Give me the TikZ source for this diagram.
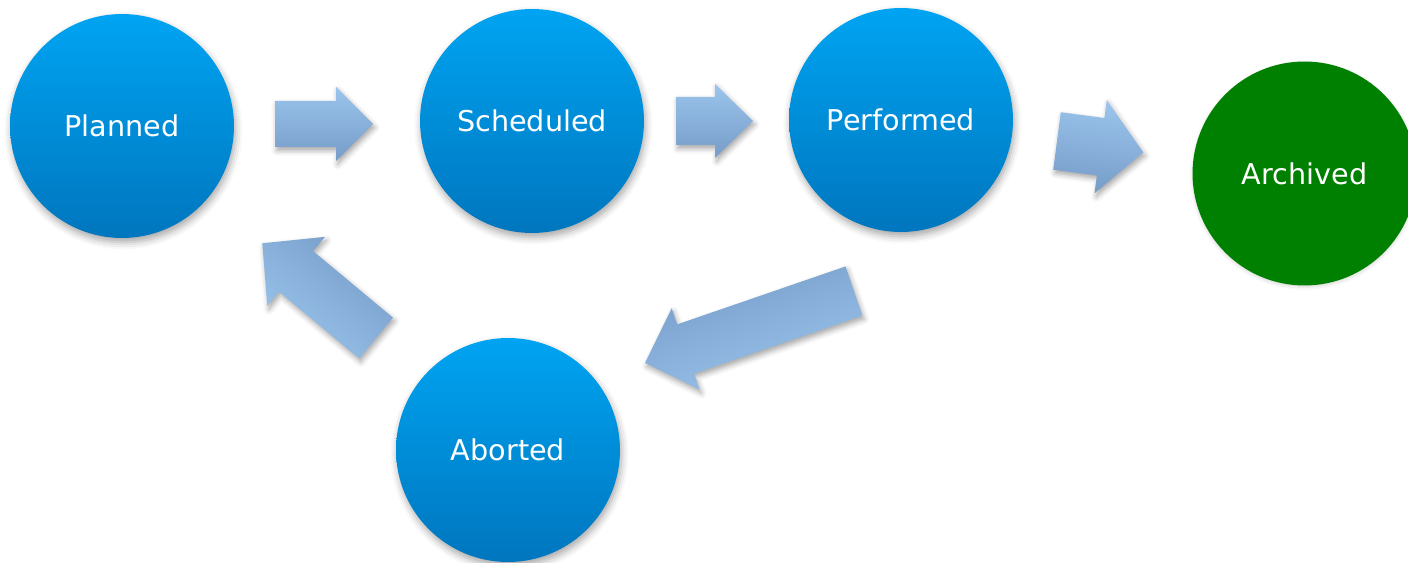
\documentclass[tikz,border=0pt]{standalone}
\usepackage{fontspec}
\setmainfont{DejaVu Sans}
\usetikzlibrary{shadows.blur}
\definecolor{bluetop}{RGB}{0,164,242}
\definecolor{bluebot}{RGB}{0,118,190}
\definecolor{archgreen}{RGB}{0,128,0}
\definecolor{arrlight}{RGB}{155,197,237}
\definecolor{arrdark}{RGB}{118,156,200}
% #1 tail x, #2 tail y, #3 angle (counterclockwise), #4 length,
% #5 shaft half width, #6 head half width, #7 head length
\newcommand\blockarrow[7]{%
  \pgfmathsetmacro\baDx{cos(#3)}\pgfmathsetmacro\baDy{-sin(#3)}%
  \pgfmathsetmacro\baNx{-sin(#3)}\pgfmathsetmacro\baNy{-cos(#3)}%
  \pgfmathsetmacro\baB{#4-#7}%
  \path[blockarrowstyle, shading angle=#3]
    ({#1+#5*\baNx}, {#2+#5*\baNy})
    -- ({#1+\baB*\baDx+#5*\baNx}, {#2+\baB*\baDy+#5*\baNy})
    -- ({#1+\baB*\baDx+#6*\baNx}, {#2+\baB*\baDy+#6*\baNy})
    -- ({#1+#4*\baDx}, {#2+#4*\baDy})
    -- ({#1+\baB*\baDx-#6*\baNx}, {#2+\baB*\baDy-#6*\baNy})
    -- ({#1+\baB*\baDx-#5*\baNx}, {#2+\baB*\baDy-#5*\baNy})
    -- ({#1-#5*\baNx}, {#2-#5*\baNy}) -- cycle;}
\begin{document}
\begin{tikzpicture}[x=0.02cm,y=-0.02cm,
  statebase/.style={circle, minimum size=4.48cm, inner sep=0pt, text=white,
    font=\fontsize{16.3pt}{19pt}\selectfont},
  state/.style={statebase, top color=bluetop, bottom color=bluebot,
    blur shadow={shadow xshift=0.8pt, shadow yshift=-2.5pt, shadow blur radius=4pt, shadow opacity=35}},
  final/.style={statebase, fill=archgreen,
    blur shadow={shadow xshift=0pt, shadow yshift=-1pt, shadow blur radius=2pt, shadow opacity=15}},
  blockarrowstyle/.style={top color=arrlight, bottom color=arrdark,
    blur shadow={shadow xshift=1pt, shadow yshift=-2pt, shadow blur radius=3pt, shadow opacity=35}}]
\useasboundingbox (0,0) rectangle (1408,563);

\blockarrow{275}{124}{0}{98}{23}{37}{37}
\blockarrow{676}{121}{0}{77}{24}{37}{38}
\blockarrow{1057}{141}{-7.5}{87}{29}{47}{43}
\blockarrow{854}{291}{199}{221}{26}{43}{43}
\blockarrow{376}{338}{140.2}{148}{26.5}{45}{44}

\node[state] (planned)   at (122,126)  {Planned};
\node[state] (scheduled) at (532,121)  {Scheduled};
\node[state] (performed) at (901,120)  {Performed};
\node[final] (archived)  at (1304.5,173.5) {Archived};
\node[state] (aborted)   at (508,450)  {Aborted};
\end{tikzpicture}
\end{document}
